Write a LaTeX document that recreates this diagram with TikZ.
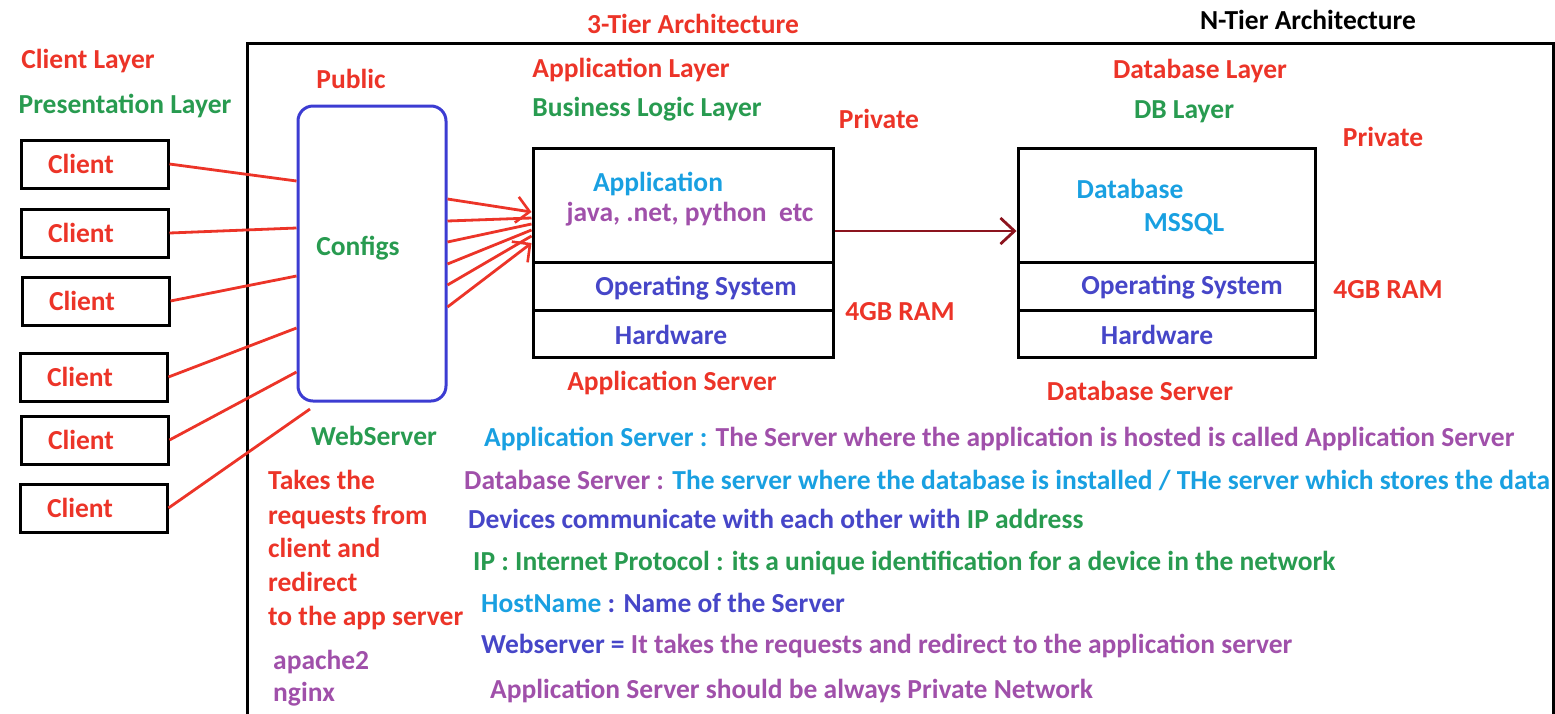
\documentclass[tikz,border=0pt]{standalone}
\usepackage{fontspec}
\setmainfont{Carlito}
\usetikzlibrary{arrows.meta,calc}
\definecolor{cred}{RGB}{236,52,40}
\definecolor{cgreen}{RGB}{40,155,80}
\definecolor{cblue}{RGB}{25,160,225}
\definecolor{cpurple}{RGB}{160,80,170}
\definecolor{cviolet}{RGB}{70,70,200}
\definecolor{cbox}{RGB}{60,60,210}
\definecolor{cdark}{RGB}{140,20,30}
\tikzset{
  lbl/.style={font=\bfseries\fontsize{27.5}{32}\selectfont, inner sep=0pt, yshift=-1.5pt},
  txt/.style={font=\bfseries\fontsize{27.5}{32}\selectfont, inner sep=0pt, anchor=mid west, yshift=-6pt},
  clientbox/.style={draw, line width=3pt, minimum height=48pt, text width=93pt, inner xsep=27pt, inner ysep=0pt, align=left, text=cred, font=\bfseries\fontsize{27.5}{32}\selectfont},
  layer/.style={draw, line width=3pt, minimum width=300pt, inner sep=0pt},
  wire/.style={cred, line width=2.8pt},
}
\begin{document}
\begin{tikzpicture}[x=1pt,y=-1pt]
\useasboundingbox (0,0) rectangle (1555,713);
% frame
\draw[line width=3pt] (247,720) -- (247,43) -- (1553,43) -- (1553,720);
% titles
\node[lbl, text=cred] (t3) at (693,22) {3-Tier Architecture};
\node[lbl, text=black] (tn) at (1308,18) {N-Tier Architecture};
\node[lbl, text=cred] (cl) at (88,60) {Client Layer};
\node[lbl, text=cgreen] (pl) at (125,104) {Presentation Layer};
\node[lbl, text=cred] (pub) at (351,77) {Public};
\node[lbl, text=cred] (al) at (631,68) {Application Layer};
\node[lbl, text=cgreen] (bl) at (647,108) {Business Logic Layer};
\node[lbl, text=cred] (pr1) at (879,117) {Private};
\node[lbl, text=cred] (dl) at (1200,70) {Database Layer};
\node[lbl, text=cgreen] (dbl) at (1184,110) {DB Layer};
\node[lbl, text=cred] (pr2) at (1383,135) {Private};
% clients
\node[clientbox] (c1) at (94.5,164) {Client};
\node[clientbox] (c2) at (94.5,233) {Client};
\node[clientbox] (c3) at (95.5,301) {Client};
\node[clientbox] (c4) at (93.5,377) {Client};
\node[clientbox] (c5) at (94.5,440) {Client};
\node[clientbox] (c6) at (93.5,508) {Client};
% webserver
\node[draw=cbox, line width=3pt, rounded corners=15pt, minimum width=148pt, minimum height=295pt, inner sep=0pt] (ws) at (372,253.5) {};
\node[lbl, text=cgreen] (cfg) at (358,247) {Configs};
\node[lbl, text=cgreen] (wsl) at (374,434) {WebServer};
\coordinate (c6end) at (310,409);
\draw[wire] (c1.east) -- (ws.west |- 0,181);
\draw[wire] (c2.east) -- (ws.west |- 0,228);
\draw[wire] (c3.east) -- (ws.west |- 0,276);
\draw[wire] (c4.east) -- (ws.west |- 0,328);
\draw[wire] (c5.east) -- (ws.west |- 0,372);
\draw[wire] (c6.east) -- (c6end);
% application server
\node[layer, minimum height=114pt] (at) at (683,205) {};
\node[layer, minimum height=48pt] (ao) at (683,286) {};
\node[layer, minimum height=47pt] (ah) at (683,333.5) {};
\node[lbl, text=cblue] at (658,182) {Application};
\node[lbl, text=cpurple] at (690,213) {java, .net, python\ \ etc};
\node[lbl, text=cviolet] at (696,287) {Operating System};
\node[lbl, text=cviolet] at (671,333) {Hardware};
\node[lbl, text=cred] (as) at (672,381) {Application Server};
\node[lbl, text=cred] (ram1) at (900,310) {4GB RAM};
\draw[wire, -{Straight Barb[length=13pt,width=26pt,line width=2.6pt]}] (ws.east |- 0,199) -- (at.west |- 0,212);
\draw[wire] (ws.east |- 0,221) -- (at.west |- 0,218);
\draw[wire] (ws.east |- 0,242) -- (at.west |- 0,224);
\draw[wire] (ws.east |- 0,264) -- (at.west |- 0,230);
\draw[wire] (ws.east |- 0,285) -- (at.west |- 0,236);
\draw[wire, -{Straight Barb[length=13pt,width=26pt,line width=2.6pt]}] (ws.east |- 0,307) -- (at.west |- 0,243);
% database server
\node[layer, minimum width=297pt, minimum height=114pt] (dt) at (1166.5,205) {};
\node[layer, minimum width=297pt, minimum height=48pt] (do) at (1166.5,286) {};
\node[layer, minimum width=297pt, minimum height=47pt] (dh) at (1166.5,333.5) {};
\node[lbl, text=cblue] at (1130,187) {Database};
\node[lbl, text=cblue] at (1184,223) {MSSQL};
\node[lbl, text=cviolet] at (1182,286) {Operating System};
\node[lbl, text=cviolet] at (1157,333) {Hardware};
\node[lbl, text=cred] (ds) at (1140,389) {Database Server};
\node[lbl, text=cred] (ram2) at (1388,288) {4GB RAM};
\draw[cdark, line width=2.8pt, -{Straight Barb[length=14pt,width=26pt,line width=2.8pt]}] (at.east |- 0,231) -- (dt.west |- 0,231);
% left notes
\node[txt, text=cred] at (268,481) {Takes the};
\node[txt, text=cred] at (268,516) {requests from};
\node[txt, text=cred] at (268,549) {client and};
\node[txt, text=cred] at (268,583) {redirect};
\node[txt, text=cred] at (268,617) {to the app server};
\node[txt, text=cpurple] at (273,661) {apache2};
\node[txt, text=cpurple] at (273,693) {nginx};
% notes
\node[txt] at (484,438) {\textcolor{cblue}{Application Server :} \textcolor{cpurple}{The Server where the application is hosted is called Application Server}};
\node[txt] at (464,481) {\textcolor{cpurple}{Database Server :} \textcolor{cblue}{The server where the database is installed / THe server which stores the data}};
\node[txt] at (468,520) {\textcolor{cviolet}{Devices communicate with each other with} \textcolor{cgreen}{IP address}};
\node[txt, text=cgreen] at (473,562) {IP : Internet Protocol : its a unique identification for a device in the network};
\node[txt] at (481,604) {\textcolor{cblue}{HostName} \textcolor{cviolet}{: Name of the Server}};
\node[txt] at (481,645) {\textcolor{cviolet}{Webserver =} \textcolor{cpurple}{It takes the requests and redirect to the application server}};
\node[txt, text=cpurple] at (490,690) {Application Server should be always Private Network};
\end{tikzpicture}
\end{document}
